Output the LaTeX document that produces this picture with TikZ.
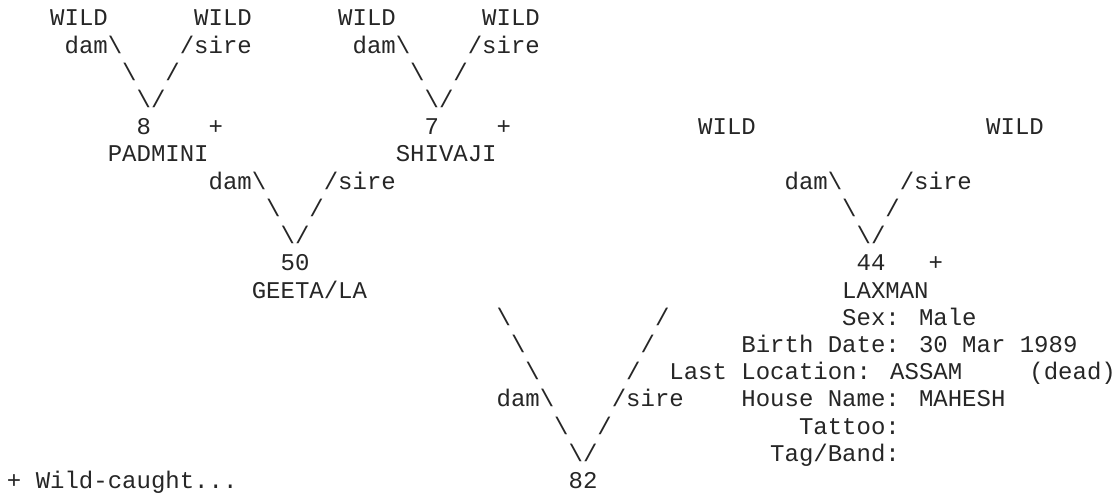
\documentclass[tikz,border=0pt]{standalone}
\usepackage{fontspec}
\newfontfamily\asciifont{Liberation Mono}
\usepackage{tikz}

\tikzset{
  txt/.style={font=\asciifont\fontsize{18pt}{20.4pt}\selectfont,text=black!85,
    anchor=base west,inner sep=0pt,outer sep=0pt}
}
\newcommand{\bkslash}{\textbackslash}

\begin{document}
\begin{tikzpicture}[x=10.8pt,y=-20.4pt]
  \fill[white] (0pt,0pt) rectangle (840pt,-371.25pt);
  \useasboundingbox (0pt,0pt) rectangle (840pt,-371.25pt);
  \begin{scope}[xshift=5.25pt,yshift=-19.5pt]
    % great-grandparents
    \foreach \n/\c in {a/3,b/13,c/23,d/33}
      \node[txt] (wild\n) at (\c,0) {WILD};
    \foreach \n/\c in {a/4,b/24}
      \node[txt] (dam\n) at (\c,1) {dam\bkslash};
    \foreach \n/\c in {a/12,b/32}
      \node[txt] (sire\n) at (\c,1) {/sire};
    \foreach \n/\c in {a/8,b/28}
      \node[txt] (ldiag\n) at (\c,2) {\bkslash};
    \foreach \n/\c in {a/11,b/31}
      \node[txt] (rdiag\n) at (\c,2) {/};
    \foreach \n/\c in {a/9,b/29}
      \node[txt] (vee\n) at (\c,3) {\bkslash/};

    % grandparents
    \node[txt] (num8) at (9,4) {8};
    \node[txt] (plus8) at (14,4) {+};
    \node[txt] (num7) at (29,4) {7};
    \node[txt] (plus7) at (34,4) {+};
    \node[txt] (wilde) at (48,4) {WILD};
    \node[txt] (wildf) at (68,4) {WILD};
    \node[txt] (padmini) at (7,5) {PADMINI};
    \node[txt] (shivaji) at (27,5) {SHIVAJI};

    \foreach \n/\c in {c/14,d/54}
      \node[txt] (dam\n) at (\c,6) {dam\bkslash};
    \foreach \n/\c in {c/22,d/62}
      \node[txt] (sire\n) at (\c,6) {/sire};
    \foreach \n/\c in {c/18,d/58}
      \node[txt] (ldiag\n) at (\c,7) {\bkslash};
    \foreach \n/\c in {c/21,d/61}
      \node[txt] (rdiag\n) at (\c,7) {/};
    \foreach \n/\c in {c/19,d/59}
      \node[txt] (vee\n) at (\c,8) {\bkslash/};

    % parents
    \node[txt] (num50) at (19,9) {50};
    \node[txt] (num44) at (59,9) {44};
    \node[txt] (plus44) at (64,9) {+};
    \node[txt] (geeta) at (17,10) {GEETA/LA};
    \node[txt] (laxman) at (58,10) {LAXMAN};

    % long vee down to the animal
    \foreach \r/\c in {11/34,12/35,13/36}
      \node[txt] (lline\r) at (\c,\r) {\bkslash};
    \foreach \r/\c in {11/45,12/44,13/43}
      \node[txt] (rline\r) at (\c,\r) {/};
    \node[txt] (dame) at (34,14) {dam\bkslash};
    \node[txt] (siree) at (42,14) {/sire};
    \node[txt] (ldiage) at (38,15) {\bkslash};
    \node[txt] (rdiage) at (41,15) {/};
    \node[txt] (veee) at (39,16) {\bkslash/};
    \node[txt] (num82) at (39,17) {82};

    % details of the sire
    \node[txt] (sex) at (58,11) {Sex: Male};
    \node[txt] (birth) at (51,12) {Birth Date: 30 Mar 1989};
    \node[txt] (location) at (46,13) {Last Location: ASSAM};
    \node[txt] (dead) at (71,13) {(dead)};
    \node[txt] (house) at (51,14) {House Name: MAHESH};
    \node[txt] (tattoo) at (55,15) {Tattoo:};
    \node[txt] (tag) at (53,16) {Tag/Band:};

    \node[txt] (legend) at (0,17) {+ Wild-caught...};
  \end{scope}
\end{tikzpicture}
\end{document}
